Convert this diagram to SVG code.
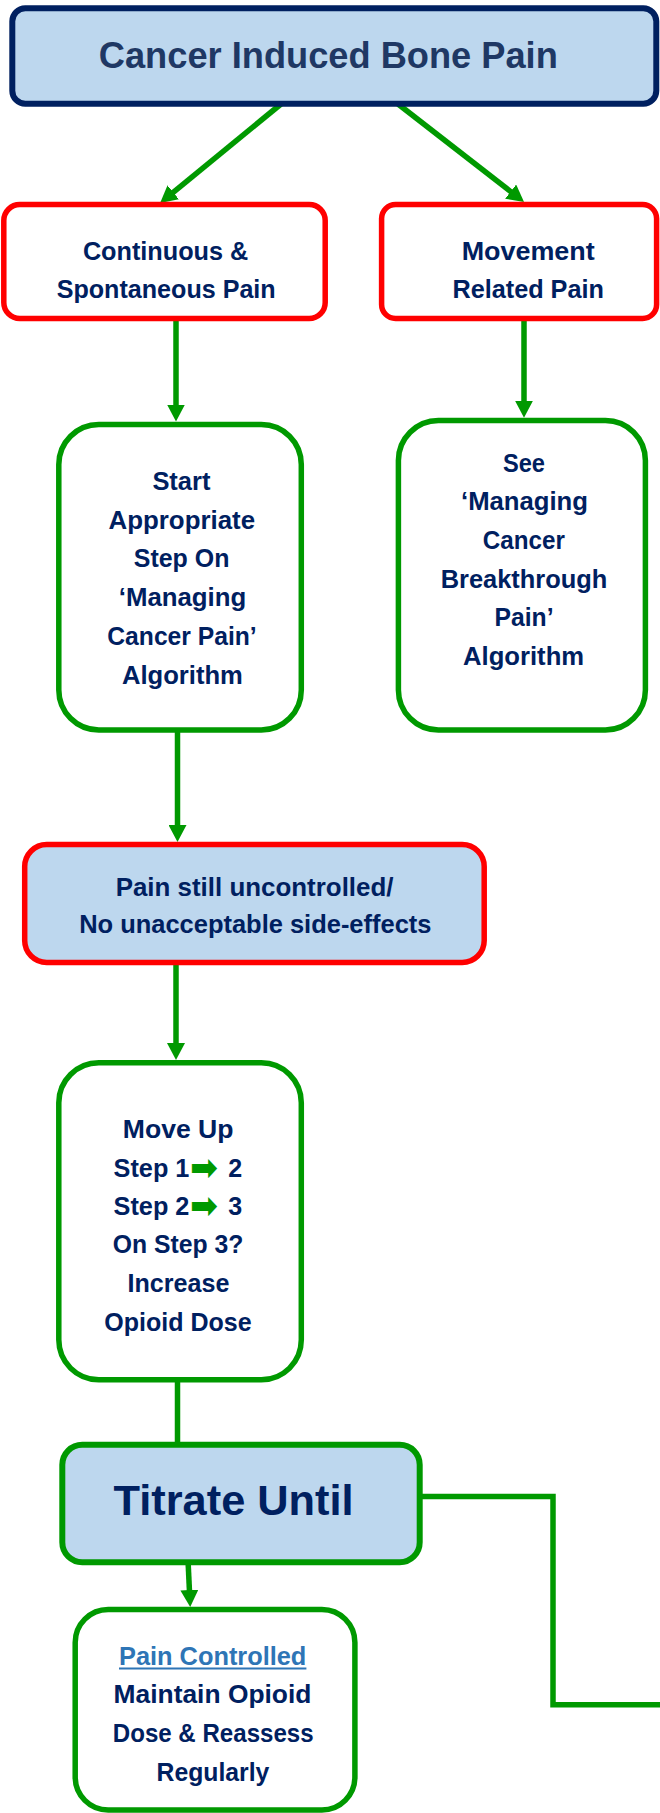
<svg xmlns="http://www.w3.org/2000/svg" width="660" height="1813" viewBox="0 0 660 1813">
  <style>
    .box-title { fill: #bdd7ee; stroke: #002060; stroke-width: 6; }
    .box-red { fill: #ffffff; stroke: #ff0000; stroke-width: 5.5; }
    .box-red-blue { fill: #bdd7ee; stroke: #ff0000; stroke-width: 5.5; }
    .box-green { fill: #ffffff; stroke: #009900; stroke-width: 5.5; }
    .box-green-blue { fill: #bdd7ee; stroke: #009900; stroke-width: 6; }
    .link { fill: none; stroke: #009900; stroke-width: 5.5; }
    .link-arrow { fill: none; stroke: #009900; stroke-width: 5.5; marker-end: url(#head); }
    .t { font-family: "Liberation Sans", Arial, sans-serif; font-weight: bold; font-size: 25px; fill: #002060; text-anchor: middle; }
    .big { font-size: 37px; fill: #1f3864; }
    .huge { font-size: 42px; }
    .ok { fill: #2e75b6; }
    .arr { font-family: "DejaVu Sans", sans-serif; font-weight: bold; font-size: 36px; fill: #009900; }
  </style>
  <defs>
    <marker id="head" markerUnits="userSpaceOnUse" markerWidth="18" markerHeight="18" refX="2" refY="9" orient="auto">
      <path d="M0,0 L17,9 L0,18 z" fill="#009900"/>
    </marker>
  </defs>

  <!-- connectors -->
  <g id="connectors">
    <line class="link-arrow" x1="281" y1="104" x2="171.7" y2="193.6"/>
    <line class="link-arrow" x1="398" y1="104" x2="512.2" y2="192.8"/>
    <line class="link-arrow" x1="176" y1="318" x2="176" y2="406.5"/>
    <line class="link-arrow" x1="524" y1="318" x2="524" y2="402.7"/>
    <line class="link-arrow" x1="177.5" y1="728" x2="177.5" y2="827"/>
    <line class="link-arrow" x1="176" y1="960" x2="176" y2="1045"/>
    <line class="link" x1="177.5" y1="1378" x2="177.5" y2="1447"/>
    <line class="link-arrow" x1="188" y1="1560" x2="189.5" y2="1592"/>
    <polyline class="link" stroke-width="6" points="418,1496.5 553,1496.5 553,1704.7 665,1704.7"/>
  </g>

  <!-- title -->
  <g id="node-title">
    <rect class="box-title" x="12.3" y="8.2" width="644" height="95.5" rx="13"/>
    <text class="t big" x="328.3" y="68.3" textLength="459" lengthAdjust="spacingAndGlyphs">Cancer Induced Bone Pain</text>
  </g>

  <g id="node-continuous">
    <rect class="box-red" x="3.8" y="204.5" width="321.4" height="114" rx="16"/>
    <text class="t" x="165.6" y="260" textLength="165.4" lengthAdjust="spacingAndGlyphs">Continuous &amp;</text>
    <text class="t" x="166.2" y="298" textLength="219" lengthAdjust="spacingAndGlyphs">Spontaneous Pain</text>
  </g>

  <g id="node-movement">
    <rect class="box-red" x="381.6" y="204.5" width="275" height="114" rx="14"/>
    <text class="t" x="528.2" y="260" textLength="133" lengthAdjust="spacingAndGlyphs">Movement</text>
    <text class="t" x="528.2" y="298" textLength="151.5" lengthAdjust="spacingAndGlyphs">Related Pain</text>
  </g>

  <g id="node-start">
    <rect class="box-green" x="58.8" y="424.5" width="242.5" height="305.5" rx="40"/>
    <text class="t" x="181.4" y="490" textLength="58" lengthAdjust="spacingAndGlyphs">Start</text>
    <text class="t" x="181.8" y="528.7" textLength="146.5" lengthAdjust="spacingAndGlyphs">Appropriate</text>
    <text class="t" x="181.6" y="567.4" textLength="95.6" lengthAdjust="spacingAndGlyphs">Step On</text>
    <text class="t" x="182.5" y="606.1" textLength="127.5" lengthAdjust="spacingAndGlyphs">‘Managing</text>
    <text class="t" x="182" y="644.8" textLength="149.4" lengthAdjust="spacingAndGlyphs">Cancer Pain’</text>
    <text class="t" x="182.4" y="683.5" textLength="120.8" lengthAdjust="spacingAndGlyphs">Algorithm</text>
  </g>

  <g id="node-see">
    <rect class="box-green" x="398.4" y="420.5" width="247" height="309.5" rx="40"/>
    <text class="t" x="524" y="471.7" textLength="42" lengthAdjust="spacingAndGlyphs">See</text>
    <text class="t" x="524.5" y="510.4" textLength="127" lengthAdjust="spacingAndGlyphs">‘Managing</text>
    <text class="t" x="523.8" y="549" textLength="82" lengthAdjust="spacingAndGlyphs">Cancer</text>
    <text class="t" x="524" y="587.7" textLength="166.7" lengthAdjust="spacingAndGlyphs">Breakthrough</text>
    <text class="t" x="524" y="626.3" textLength="59" lengthAdjust="spacingAndGlyphs">Pain’</text>
    <text class="t" x="523.6" y="665" textLength="121" lengthAdjust="spacingAndGlyphs">Algorithm</text>
  </g>

  <g id="node-uncontrolled">
    <rect class="box-red-blue" x="24.7" y="844.5" width="459.5" height="118" rx="22"/>
    <text class="t" x="254.6" y="895.7" textLength="277.8" lengthAdjust="spacingAndGlyphs">Pain still uncontrolled/</text>
    <text class="t" x="255.3" y="933.3" textLength="352.3" lengthAdjust="spacingAndGlyphs">No unacceptable side-effects</text>
  </g>

  <g id="node-move-up">
    <rect class="box-green" x="58.8" y="1062.8" width="242.5" height="317" rx="40"/>
    <text class="t" x="178.2" y="1138.3" textLength="110.7" lengthAdjust="spacingAndGlyphs">Move Up</text>
    <text class="t" x="151.5" y="1176.7" textLength="75.8" lengthAdjust="spacingAndGlyphs">Step 1</text>
    <text class="arr" x="190" y="1180" textLength="28" lengthAdjust="spacingAndGlyphs">➡</text>
    <text class="t" x="235.2" y="1176.7">2</text>
    <text class="t" x="151.5" y="1215" textLength="75.8" lengthAdjust="spacingAndGlyphs">Step 2</text>
    <text class="arr" x="190" y="1218.3" textLength="28" lengthAdjust="spacingAndGlyphs">➡</text>
    <text class="t" x="235.2" y="1215">3</text>
    <text class="t" x="178" y="1253.3" textLength="130.5" lengthAdjust="spacingAndGlyphs">On Step 3?</text>
    <text class="t" x="178.5" y="1292.3" textLength="101.9" lengthAdjust="spacingAndGlyphs">Increase</text>
    <text class="t" x="178" y="1331" textLength="147.3" lengthAdjust="spacingAndGlyphs">Opioid Dose</text>
  </g>

  <g id="node-titrate">
    <rect class="box-green-blue" x="62.3" y="1444.7" width="357.4" height="117.5" rx="20"/>
    <text class="t huge" x="233.6" y="1515" textLength="240" lengthAdjust="spacingAndGlyphs">Titrate Until</text>
  </g>

  <g id="node-controlled">
    <rect class="box-green" x="75.2" y="1609.5" width="279.7" height="200.5" rx="33"/>
    <text class="t ok" x="212.7" y="1665" textLength="187.3" lengthAdjust="spacingAndGlyphs">Pain Controlled</text>
    <line x1="119" y1="1668.6" x2="306.4" y2="1668.6" stroke="#2e75b6" stroke-width="2"/>
    <text class="t" x="212.5" y="1703.3" textLength="197.8" lengthAdjust="spacingAndGlyphs">Maintain Opioid</text>
    <text class="t" x="213.2" y="1741.7" textLength="200.8" lengthAdjust="spacingAndGlyphs">Dose &amp; Reassess</text>
    <text class="t" x="213" y="1781" textLength="112.8" lengthAdjust="spacingAndGlyphs">Regularly</text>
  </g>
</svg>
